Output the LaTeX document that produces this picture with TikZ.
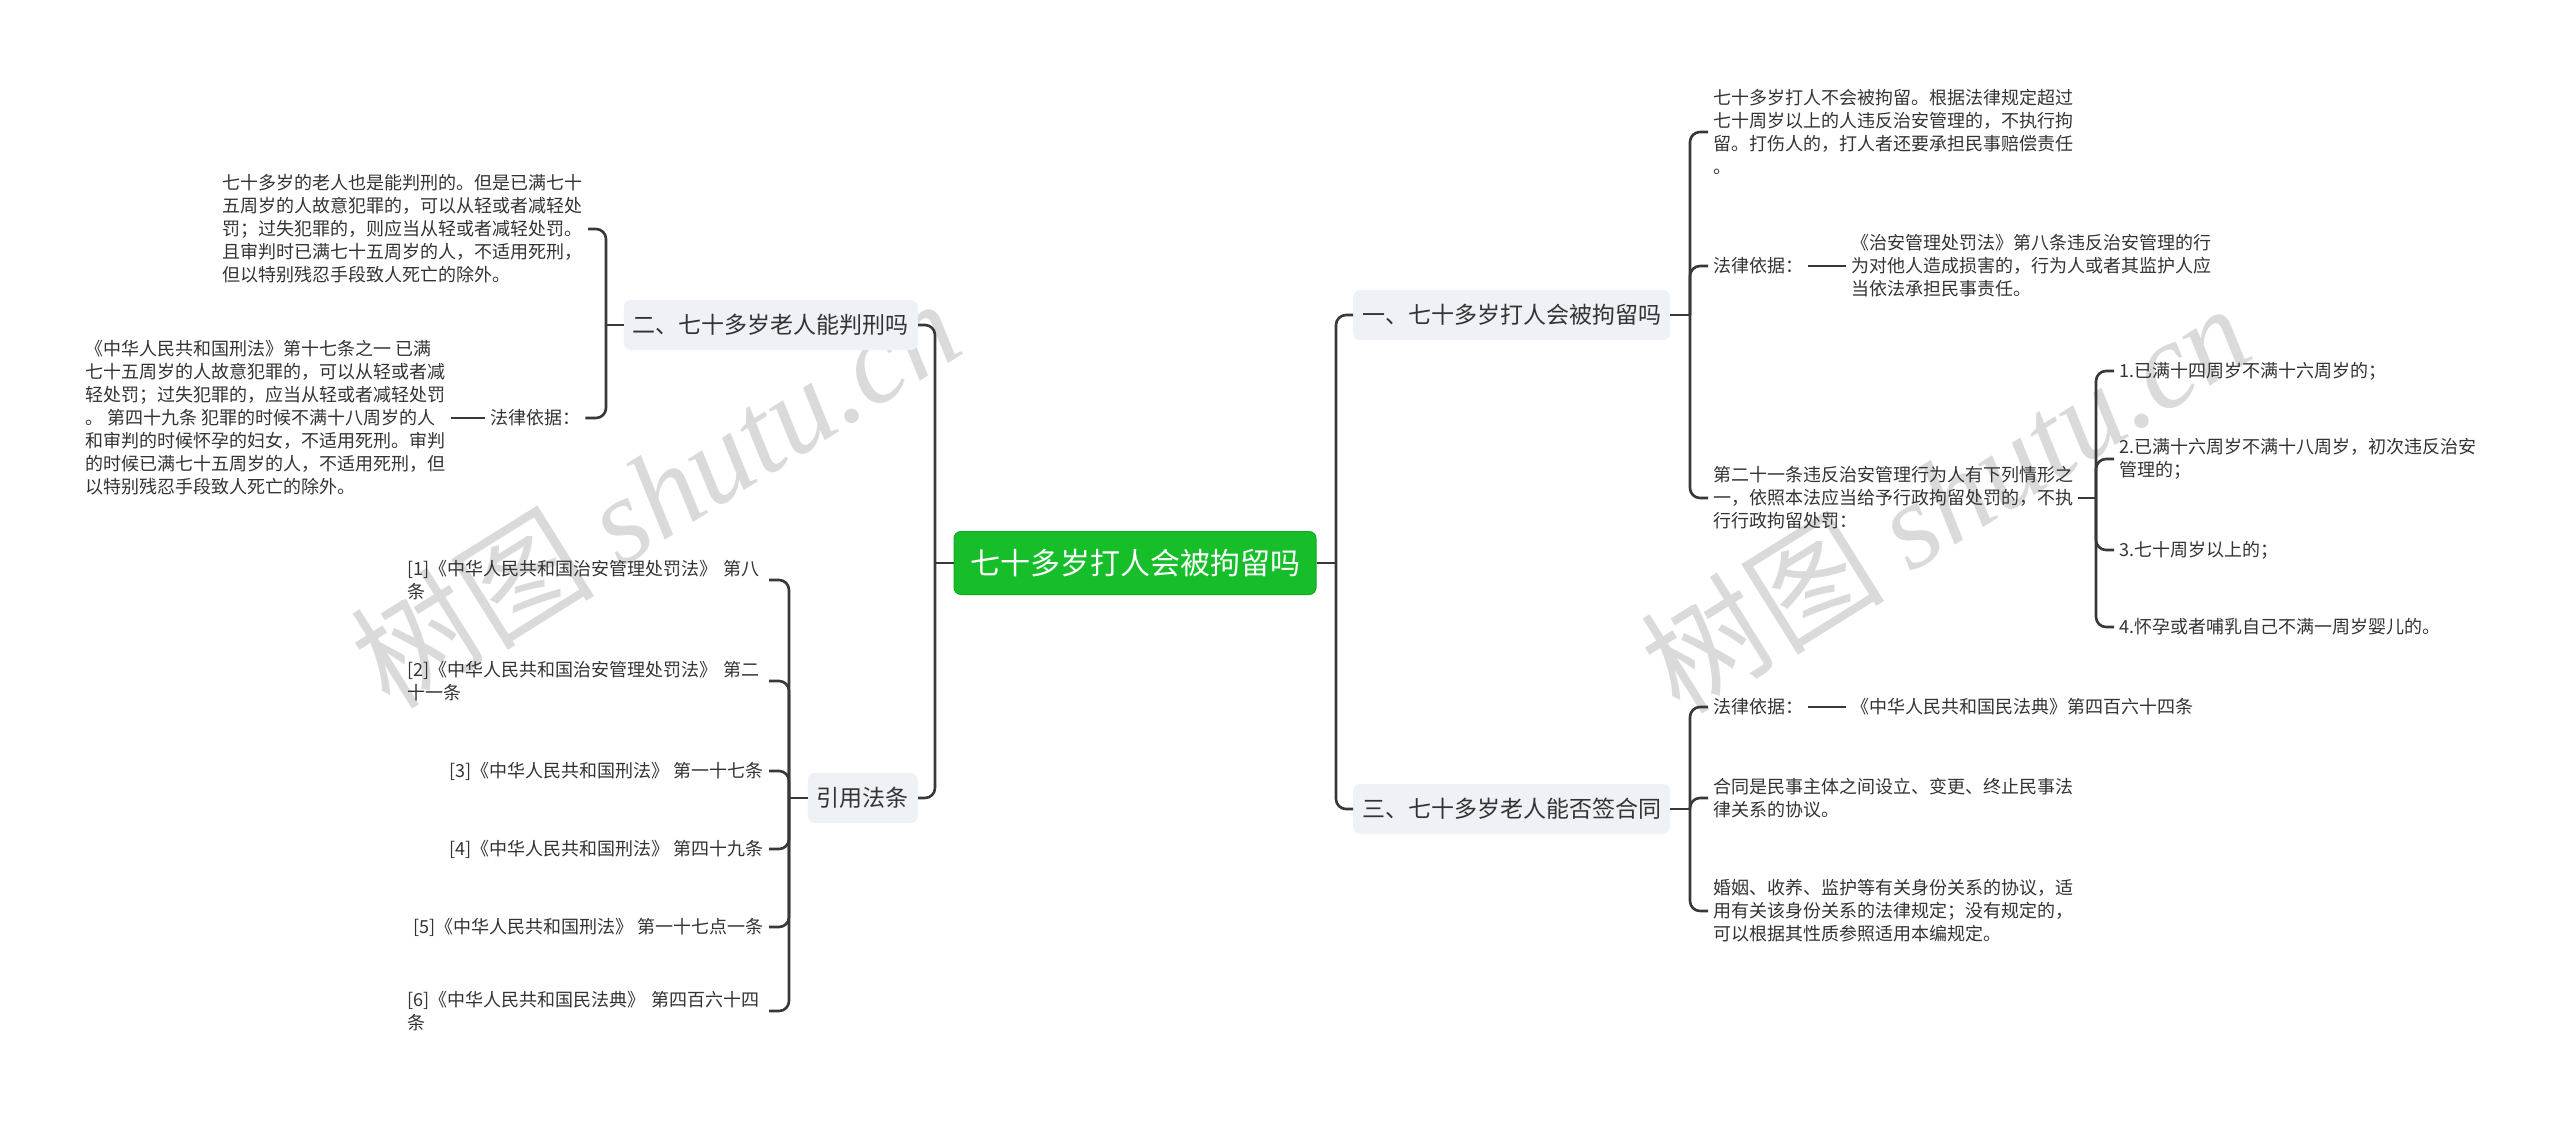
\documentclass[tikz,border=0pt]{standalone}
\usepackage{fontspec}
\setmainfont{Noto Sans CJK SC}
\newfontfamily\wmserif{Liberation Serif}
\definecolor{Ink}{HTML}{333333}
\definecolor{Wire}{HTML}{383838}
\definecolor{Pale}{HTML}{EEF1F5}
\definecolor{Leaf}{HTML}{16BF2A}
\definecolor{LeafEdge}{HTML}{11A823}
\definecolor{Ghost}{HTML}{DADADA}
\tikzset{
    rootnode/.style={rectangle, rounded corners=7pt, fill=Leaf, draw=LeafEdge, line width=1pt, text=white, font=\fontsize{30}{36}\selectfont, inner xsep=16pt, minimum height=63pt},
    topicnode/.style={rectangle, rounded corners=7pt, fill=Pale, text=Ink, font=\fontsize{23}{28}\selectfont, inner xsep=9pt, minimum height=50pt},
    textnode/.style={text=Ink, font=\fontsize{18}{23}\selectfont, align=left, inner xsep=5pt, inner ysep=1pt},
    wire/.style={draw=Wire, line width=2.6pt, rounded corners=10pt},
    ghost/.style={text=Ghost, font=\fontsize{122}{130}\selectfont, rotate=32},
}
\begin{document}
\begin{tikzpicture}[x=1pt, y=-1pt]
                \useasboundingbox (0,0) rectangle (2560,1126);
                % Filigrana
                \node[ghost] (wmleft) at (655,492) {树图 {\wmserif\itshape shutu.cn}};
                \node[ghost] (wmright) at (1945,497) {树图 {\wmserif\itshape shutu.cn}};

                % Radice
                \node[rootnode] (root) at (1135,563) {七十多岁打人会被拘留吗};
                \node[topicnode, anchor=east] (l1) at (918,325) {二、七十多岁老人能判刑吗};
                \node[topicnode, anchor=east] (l2) at (918,798) {引用法条};
                \node[topicnode, anchor=west] (r1) at (1353,315) {一、七十多岁打人会被拘留吗};
                \node[topicnode, anchor=west] (r2) at (1353,809) {三、七十多岁老人能否签合同};
                \coordinate (ltrunk) at (935,563);
                \coordinate (rtrunk) at (1336,563);
                \draw[wire] (root.west) -- (ltrunk);
                \draw[wire] (root.east) -- (rtrunk);
                \foreach \b in {l1, l2} \draw[wire] (ltrunk) |- (\b.east);
                \foreach \b in {r1, r2} \draw[wire] (rtrunk) |- (\b.west);

                % Ramo: judging
                \node[textnode, anchor=east] (l1a) at (588,229) {七十多岁的老人也是能判刑的。但是已满七十\\五周岁的人故意犯罪的，可以从轻或者减轻处\\罚；过失犯罪的，则应当从轻或者减轻处罚。\\且审判时已满七十五周岁的人，不适用死刑，\\但以特别残忍手段致人死亡的除外。};
                \node[textnode, anchor=west] (l1b) at (485,418) {法律依据：};
                \node[textnode, anchor=east] (l1c) at (451,418) {《中华人民共和国刑法》第十七条之一 已满\\七十五周岁的人故意犯罪的，可以从轻或者减\\轻处罚；过失犯罪的，应当从轻或者减轻处罚\\。 第四十九条 犯罪的时候不满十八周岁的人\\和审判的时候怀孕的妇女，不适用死刑。审判\\的时候已满七十五周岁的人，不适用死刑，但\\以特别残忍手段致人死亡的除外。};
                \coordinate (l1s) at (606,325);
                \draw[wire] (l1.west) -- (l1s);
                \foreach \c in {l1a, l1b} \draw[wire] (l1s) |- (\c.east);
                \draw[wire] (l1b.west) -- (l1c.east);

                % Ramo: citations
                \node[textnode, anchor=east, text width=356pt] (c1) at (769,580) {[1]《中华人民共和国治安管理处罚法》~第八\\条};
                \node[textnode, anchor=east, text width=356pt] (c2) at (769,681) {[2]《中华人民共和国治安管理处罚法》~第二\\十一条};
                \node[textnode, anchor=east] (c3) at (769,771) {[3]《中华人民共和国刑法》 第一十七条};
                \node[textnode, anchor=east] (c4) at (769,849) {[4]《中华人民共和国刑法》 第四十九条};
                \node[textnode, anchor=east] (c5) at (769,927) {[5]《中华人民共和国刑法》 第一十七点一条};
                \node[textnode, anchor=east, text width=356pt] (c6) at (769,1011) {[6]《中华人民共和国民法典》~第四百六十四\\条};
                \coordinate (l2s) at (789,798);
                \draw[wire] (l2.west) -- (l2s);
                \foreach \c in {c1, c2, c3, c4, c5, c6} \draw[wire] (l2s) |- (\c.east);

                % Ramo: detention
                \node[textnode, anchor=west] (r1a) at (1708,132) {七十多岁打人不会被拘留。根据法律规定超过\\七十周岁以上的人违反治安管理的，不执行拘\\留。打伤人的，打人者还要承担民事赔偿责任\\。};
                \node[textnode, anchor=west] (r1b) at (1708,266) {法律依据：};
                \node[textnode, anchor=west] (r1bt) at (1846,266) {《治安管理处罚法》第八条违反治安管理的行\\为对他人造成损害的，行为人或者其监护人应\\当依法承担民事责任。};
                \node[textnode, anchor=west] (r1c) at (1708,498) {第二十一条违反治安管理行为人有下列情形之\\一，依照本法应当给予行政拘留处罚的，不执\\行行政拘留处罚：};
                \coordinate (r1s) at (1690,315);
                \draw[wire] (r1.east) -- (r1s);
                \foreach \c in {r1a, r1b, r1c} \draw[wire] (r1s) |- (\c.west);
                \draw[wire] (r1b.east) -- (r1bt.west);

                \node[textnode, anchor=west] (q1) at (2114,371) {1.已满十四周岁不满十六周岁的；};
                \node[textnode, anchor=west] (q2) at (2114,459) {2.已满十六周岁不满十八周岁，初次违反治安\\管理的；};
                \node[textnode, anchor=west] (q3) at (2114,550) {3.七十周岁以上的；};
                \node[textnode, anchor=west] (q4) at (2114,627) {4.怀孕或者哺乳自己不满一周岁婴儿的。};
                \coordinate (r1cs) at (2096,498);
                \draw[wire] (r1c.east) -- (r1cs);
                \foreach \c in {q1, q2, q3, q4} \draw[wire] (r1cs) |- (\c.west);

                % Ramo: contracts
                \node[textnode, anchor=west] (r2a) at (1708,707) {法律依据：};
                \node[textnode, anchor=west] (r2at) at (1846,707) {《中华人民共和国民法典》第四百六十四条};
                \node[textnode, anchor=west] (r2b) at (1708,798) {合同是民事主体之间设立、变更、终止民事法\\律关系的协议。};
                \node[textnode, anchor=west] (r2c) at (1708,911) {婚姻、收养、监护等有关身份关系的协议，适\\用有关该身份关系的法律规定；没有规定的，\\可以根据其性质参照适用本编规定。};
                \coordinate (r2s) at (1690,809);
                \draw[wire] (r2.east) -- (r2s);
                \foreach \c in {r2a, r2b, r2c} \draw[wire] (r2s) |- (\c.west);
                \draw[wire] (r2a.east) -- (r2at.west);
            \end{tikzpicture}
\end{document}
